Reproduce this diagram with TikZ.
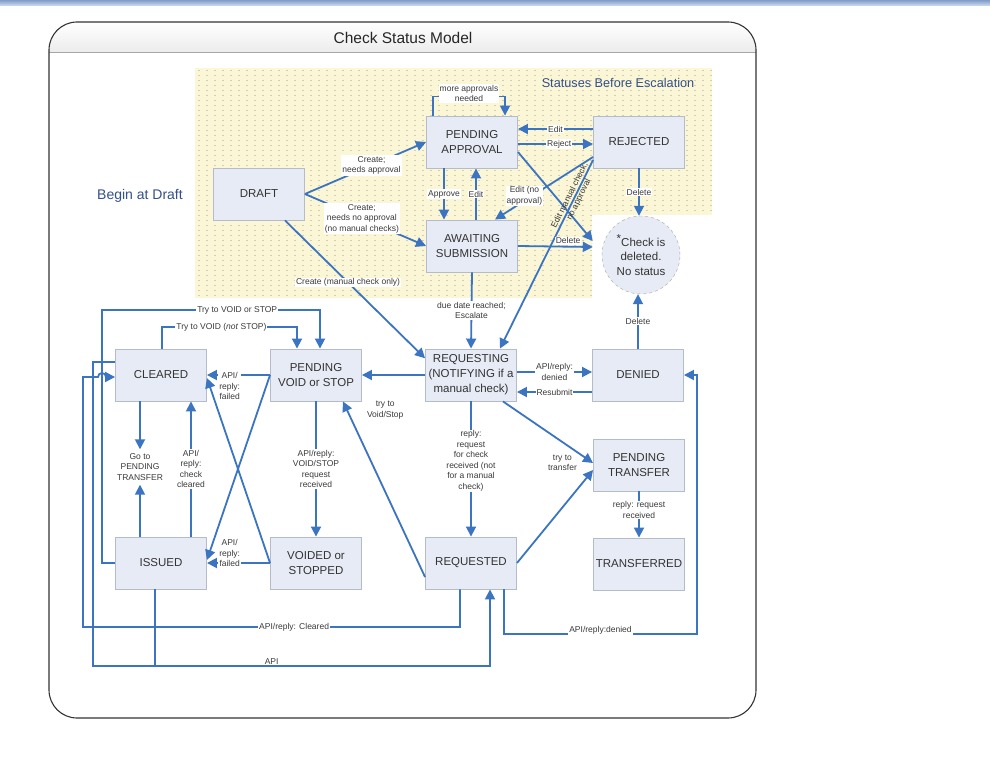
\documentclass[tikz,border=0pt]{standalone}
\usepackage{fontspec}
\setmainfont{Liberation Sans}
\usetikzlibrary{arrows.meta}
\definecolor{arrowblue}{HTML}{3B74C0}
\definecolor{boxfill}{HTML}{E7EBF5}
\definecolor{boxline}{HTML}{B4BCCB}
\definecolor{draftyellow}{HTML}{FBF6D6}
\definecolor{dotgrey}{HTML}{D2CEB4}
\definecolor{titleblue}{HTML}{34508A}
\definecolor{labelgrey}{HTML}{3A3A3A}
\definecolor{bardark}{HTML}{7F9CCB}
\definecolor{barlight}{HTML}{D3DEEF}
\begin{document}
\begin{tikzpicture}[x=1pt, y=-1pt,
  state/.style={draw=boxline, fill=boxfill, line width=0.9pt, minimum width=91pt,
    minimum height=52pt, align=center, inner sep=1pt, text=black!80,
    font=\fontsize{11.5}{15}\selectfont},
  lbl/.style={fill=white, inner sep=1pt, align=center, text=labelgrey,
    font=\fontsize{8.5}{10.5}\selectfont},
  arr/.style={draw=arrowblue, line width=1.8pt, -{Triangle[length=10pt,width=10pt]}},
  link/.style={draw=arrowblue, line width=1.8pt}]
\useasboundingbox (0,0) rectangle (990,768);
\shade[top color=bardark, bottom color=barlight] (0,0) rectangle (990,6);
\fill[white, rounded corners=28pt] (49,22) rectangle (756,718);
\begin{scope}
  \clip[rounded corners=28pt] (49,22) rectangle (756,718);
  \shade[top color=white, bottom color=gray!15] (49,22) rectangle (756,52);
\end{scope}
\draw[gray!70] (49,52) -- (756,52);
\draw[black!80, line width=1.1pt, rounded corners=28pt] (49,22) rectangle (756,718);
\node[font=\fontsize{15.5}{18}\selectfont, text=black!85] (title) at (403,38) {Check Status Model};

\fill[draftyellow] (195,68) rectangle (712,298);
\foreach \gx in {199,207,...,711}
  \draw[dotgrey, line width=1.1pt, dash pattern=on 1.1pt off 3.9pt] (\gx,70) -- (\gx,297);
\fill[white] (592,215) rectangle (712,298);
\node[font=\fontsize{12.7}{15}\selectfont, text=titleblue] (esc) at (618,83) {Statuses Before Escalation};
\node[font=\fontsize{14}{16}\selectfont, text=titleblue] (begin) at (140,196) {Begin at Draft};

\node[state] (draft) at (259,194) {DRAFT};
\node[state] (pa) at (472,142) {PENDING\\APPROVAL};
\node[state] (rej) at (639,142) {REJECTED};
\node[state] (aw) at (472,246) {AWAITING\\SUBMISSION};
\node[draw=gray!70, dashed, fill=boxfill, circle, minimum size=78pt, inner sep=0pt,
  align=center, text=black!80, font=\fontsize{11.5}{14.5}\selectfont] (del) at (641,255)
  {\raisebox{4pt}{*}Check is\\deleted.\\No status};
\node[state] (rqg) at (471,375) {REQUESTING\\(NOTIFYING if a\\manual check)};
\node[state] (den) at (638,375) {DENIED};
\node[state] (pt) at (639,465) {PENDING\\TRANSFER};
\node[state] (tr) at (639,564) {TRANSFERRED};
\node[state] (rqd) at (471,563) {REQUESTED};
\node[state] (pvs) at (316,375) {PENDING\\VOID or STOP};
\node[state] (vs) at (316,563) {VOIDED or\\STOPPED};
\node[state] (clr) at (161,375) {CLEARED};
\node[state] (iss) at (161,563) {ISSUED};
\node[lbl, fill=none, inner ysep=4pt] (goto) at (140,467) {Go to\\PENDING\\TRANSFER};

\draw[arr] (draft.east) -- node[lbl,pos=0.55]{Create;\\needs approval} (pa.west);
\draw[arr] (draft.east) -- node[lbl,pos=0.47]{Create;\\needs no approval\\(no manual checks)} (aw.west);
\draw[arr] ([xshift=26pt]draft.south) -- node[lbl,pos=0.45]{Create (manual check only)} (rqg.160);
\draw[arr] ([xshift=-39pt]pa.north) -- ++(0,-19) -- node[lbl,yshift=3pt]{more approvals\\needed} ++(72,0) -- ([xshift=33pt]pa.north);
\draw[arr] ([yshift=13pt]rej.west) -- node[lbl]{Edit} ([yshift=13pt]pa.east);
\draw[arr] ([yshift=-2pt]pa.east) -- node[lbl,pos=0.55]{Reject} ([yshift=-2pt]rej.west);
\draw[arr] ([xshift=-28pt]pa.south) -- node[lbl]{Approve} ([xshift=-28pt]aw.north);
\draw[arr] ([xshift=4pt]aw.north) -- node[lbl]{Edit} ([xshift=4pt]pa.south);
\draw[arr] ([yshift=-10pt]pa.east) -- ([xshift=-9pt,yshift=14pt]del.west);
\draw[arr] ([yshift=-18pt]rej.west) -- node[pos=0.2, rotate=63.6, align=center, text=labelgrey,
  font=\fontsize{8.5}{10}\selectfont]{Edit manual check,\\no approval} ([xshift=29pt]rqg.north);
\draw[arr] ([yshift=-15pt]rej.west) -- node[lbl,pos=0.7,yshift=5pt]{Edit (no\\approval)} ([xshift=23pt]aw.north);
\draw[arr] (aw.east) -- node[lbl,above=1pt,pos=0.67]{Delete} ([xshift=-9pt,yshift=8pt]del.west);
\draw[arr] (rej.south) -- node[lbl]{Delete} (rej.south |- del.north);
\draw[arr] (aw.south) -- node[lbl]{due date reached;\\Escalate} (rqg.north);

\draw[arr] (rqg.west) -- (pvs.east);
\draw[arr] ([yshift=3pt]rqg.east) -- node[lbl]{API/reply:\\denied} ([yshift=3pt]den.west);
\draw[arr] ([yshift=-17pt]den.west) -- node[lbl]{Resubmit} ([yshift=-17pt]rqg.east);
\draw[arr] (den.north) -- node[lbl]{Delete} (den.north |- del.south);
\draw[arr] ([xshift=32pt]rqg.south) -- node[lbl,fill=none,pos=0.66,below=11pt]{try to\\transfer} ([yshift=2pt]pt.west);
\draw[arr] (rqg.south) -- node[lbl,pos=0.44]{reply:\\request\\for check\\received (not\\for a manual\\check)} (rqd.north);
\draw[arr] (rqd.east) -- ([yshift=-5pt]pt.west);
\draw[arr] (pt.south) -- node[lbl,pos=0.4]{reply: request\\received} (tr.north);
\draw[arr] ([xshift=33pt]rqd.south) -- (504,634) -- node[lbl,yshift=4pt]{API/reply:denied} (697,634) |- (den.east);
\draw[arr] ([yshift=-14pt]rqd.west) -- node[lbl,fill=none,pos=0.95,right=18pt]{try to\\Void/Stop} ([xshift=27pt]pvs.south);

\draw[arr] ([xshift=-11pt]rqd.south) -- (460,627) -- node[lbl,pos=0.44]{API/reply: Cleared} (83,627)
  -- (83,377) -- (98,377) arc[start angle=180, end angle=360, radius=4] -- ([yshift=-2pt]clr.west);
\draw[arr] ([yshift=13pt]clr.west) -- (93,362) -- (93,666) -- node[lbl,fill=none,pos=0.45,above=0pt]{API} (490,666) -- ([xshift=19pt]rqd.south);
\draw[link] ([xshift=-6pt]iss.south) -- (155,666);
\draw[arr] (iss.west) -- (102,563) -- (102,310) -- node[lbl,pos=0.62]{Try to VOID or STOP} (320,310) -- ([xshift=4pt]pvs.north);
\draw[arr] ([xshift=1pt]clr.north) -- (162,327) -- node[lbl,pos=0.44]{Try to VOID (\textit{not} STOP)} (297,327) -- ([xshift=-19pt]pvs.north);

\draw[arr] ([xshift=-21pt]clr.south) -- (goto.north);
\draw[arr] ([xshift=-21pt]iss.north) -- (goto.south);
\draw[arr] ([xshift=30pt]iss.north) -- node[lbl]{API/\\reply:\\check\\cleared} ([xshift=30pt]clr.south);
\draw[arr] (pvs.west) -- ([yshift=3pt]iss.east);
\draw[arr] (vs.west) -- ([yshift=-3pt]clr.east);
\draw[arr] (pvs.west) -- node[lbl,pos=0.64,yshift=-11pt]{API/\\reply:\\failed} (clr.east);
\draw[arr] (vs.west) -- node[lbl,pos=0.64,yshift=10pt]{API/\\reply:\\failed} (iss.east);
\draw[arr] (pvs.south) -- node[lbl]{API/reply:\\VOID/STOP\\request\\received} (vs.north);
\end{tikzpicture}
\end{document}
